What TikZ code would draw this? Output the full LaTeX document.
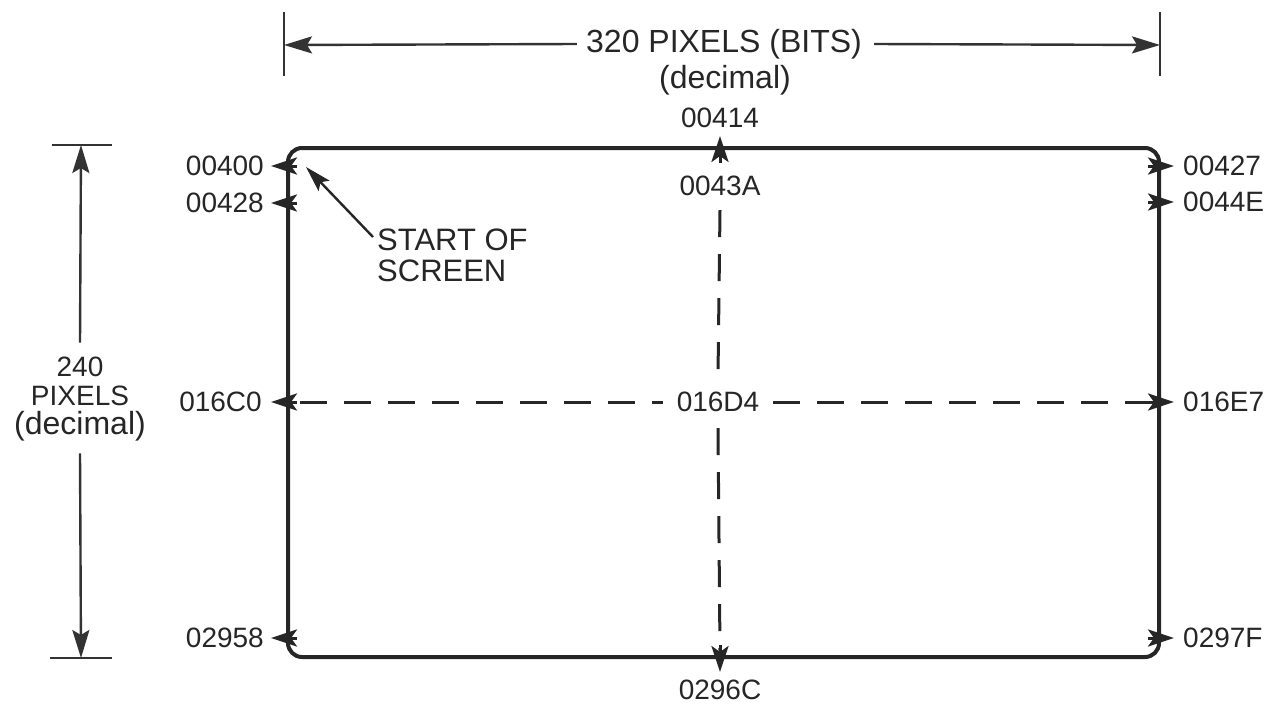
\documentclass[tikz,border=0pt]{standalone}
\usepackage{fontspec}
\setmainfont{Liberation Sans}
\usetikzlibrary{arrows.meta}
\begin{document}
\begin{tikzpicture}[x=1pt,y=-1pt,
  lbl/.style={font=\fontsize{28}{30}\selectfont, inner sep=0pt, text=black!85},
  big/.style={font=\fontsize{32}{34}\selectfont, inner sep=0pt, text=black!85},
  frame/.style={line width=4pt, black!85, rounded corners=14pt},
  dim/.style={line width=2.4pt, black!80},
  dimtip/.style={-{Stealth[length=28pt,width=17pt,inset=5pt]}},
  edgemark/.style={-{Stealth[length=26pt,width=17pt,inset=6pt]}, line width=3pt, black!85},
  dsh/.style={line width=3pt, black!85, dash pattern=on 27pt off 17pt},
  ptr/.style={line width=2.4pt, black!85, -{Stealth[length=26pt,width=15pt,inset=5pt]}}]
\useasboundingbox (0,0) rectangle (1277,712);
% top dimension
\coordinate (tl1) at (284,12); \coordinate (tl2) at (284,76);
\coordinate (tr1) at (1160,12); \coordinate (tr2) at (1160,76);
\coordinate (tla) at (284,45); \coordinate (tra) at (1160,45);
\draw[dim] (tl1) -- (tl2);
\draw[dim] (tr1) -- (tr2);
\node[big, anchor=center] (w) at (724,44) {320 PIXELS (BITS)};
\node[big, anchor=center] (wd) at (725,80) {(decimal)};
\draw[dim, dimtip] ([xshift=-9pt]w.west) -- (tla);
\draw[dim, dimtip] ([xshift=12pt]w.east) -- (tra);
% left dimension
\coordinate (lt1) at (52,145); \coordinate (lt2) at (112,145);
\coordinate (lb1) at (50,658); \coordinate (lb2) at (112,658);
\coordinate (lta) at (81,145); \coordinate (lba) at (81,658);
\draw[dim] (lt1) -- (lt2);
\draw[dim] (lb1) -- (lb2);
\node[lbl, align=center, anchor=center] (h) at (80,399) {240\\[-1pt]PIXELS\\[-1pt]{\fontsize{32}{34}\selectfont(decimal)}};
\draw[dim, dimtip] ([yshift=14pt]h.north) -- (lta);
\draw[dim, dimtip] ([yshift=-12pt]h.south) -- (lba);
% frame corners
\coordinate (TL) at (288,148); \coordinate (TR) at (1159,148);
\coordinate (BR) at (1159,657); \coordinate (BL) at (288,657);
% dashed lines
\node[lbl] (c) at (718,402) {016D4};
\coordinate (L) at (288,402); \coordinate (R) at (1159,402);
\node[lbl] (t2) at (720,186) {0043A};
\coordinate (B) at (720,657); \coordinate (T) at (720,148);
\draw[dsh] ([xshift=12pt]L) -- ([xshift=-14pt]c.west);
\draw[dsh] ([xshift=14pt]c.east) -- ([xshift=-8pt]R);
\draw[dsh] ([yshift=-14pt]t2.south) -- ([yshift=16pt]c.north);
\draw[dsh] ([yshift=-16pt]c.south) -- ([yshift=6pt]B);
% frame
\draw[frame] (TL) -- (TR) -- (BR) -- (BL) -- cycle;
% edge markers
\coordinate (m1) at (288,166); \coordinate (m2) at (288,203);
\coordinate (m4) at (288,638);
\coordinate (n1) at (1159,166); \coordinate (n2) at (1159,202);
\coordinate (n4) at (1159,638);
\foreach \m in {m1,m2,L,m4} \draw[edgemark] ([xshift=9pt]\m) -- ([xshift=-17pt]\m);
\foreach \m in {n1,n2,R,n4} \draw[edgemark] ([xshift=-11pt]\m) -- ([xshift=15pt]\m);
\draw[edgemark] ([yshift=-15pt]T) -- ([yshift=12pt]T);
\draw[edgemark] ([yshift=12pt]B) -- ([yshift=-15pt]B);
% labels
\node[lbl, anchor=east] (a1) at (264,166) {00400};
\node[lbl, anchor=east] (a2) at (264,203) {00428};
\node[lbl, anchor=east] (a3) at (262,402) {016C0};
\node[lbl, anchor=east] (a4) at (264,638) {02958};
\node[lbl, anchor=west] (b1) at (1183,166) {00427};
\node[lbl, anchor=west] (b2) at (1183,202) {0044E};
\node[lbl, anchor=west] (b3) at (1183,402) {016E7};
\node[lbl, anchor=west] (b4) at (1183,638) {0297F};
\node[lbl] (t1) at (720,118) {00414};
\node[lbl] (b5) at (720,690) {0296C};
% start of screen
\node[lbl, font=\fontsize{31}{32}\selectfont, anchor=north west, align=left] (s) at (377,229) {START OF\\[-1pt]SCREEN};
\coordinate (sp) at (306,167);
\draw[ptr] ([xshift=-4pt,yshift=-8pt]s.north west) -- (sp);
\end{tikzpicture}
\end{document}
